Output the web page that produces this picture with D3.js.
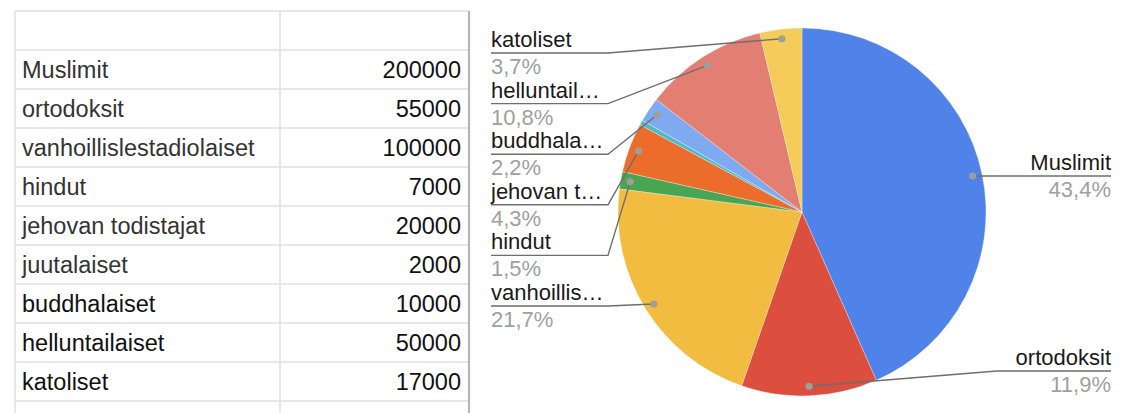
<!DOCTYPE html>
<html><head><meta charset="utf-8">
<script src="https://cdn.jsdelivr.net/npm/d3@7"></script>
<style>
html,body{margin:0;padding:0;background:#fff;}
svg{display:block;font-family:"Liberation Sans",Arial,Helvetica,sans-serif;}
</style></head>
<body>
<svg id="chart" width="1124" height="413"></svg>
<script>
const categories = ["Muslimit","ortodoksit","vanhoillislestadiolaiset","hindut","jehovan todistajat","juutalaiset","buddhalaiset","helluntailaiset","katoliset"];
const values = [200000,55000,100000,7000,20000,2000,10000,50000,17000];
const colors = ["#4f83e9","#dc4f3e","#f1bc3f","#4aa552","#ec6c2b","#4fbac4","#7faaf2","#e27e72","#f5cc5a"];
const tableTextColors = ["#333","#333","#333","#333","#333","#333","#111","#111","#111"];

const svg = d3.select("#chart");

// ---------- Table ----------
const rowKeys = ["__header"].concat(categories);
const y = d3.scaleBand().domain(rowKeys).range([11, 401]);
const colX = [15, 280, 469];
const tbl = svg.append("g");
const hl = d3.range(rowKeys.length + 1).map(i => 11 + i * y.bandwidth());
tbl.selectAll("line.h").data(hl).join("line")
  .attr("x1", colX[0]).attr("x2", colX[2])
  .attr("y1", d => d).attr("y2", d => d)
  .attr("stroke", "#e1e1e1").attr("stroke-width", 1.6);
tbl.append("line").attr("x1", colX[0]).attr("x2", colX[0]).attr("y1", 11).attr("y2", 413)
  .attr("stroke", "#e1e1e1").attr("stroke-width", 1.6);
tbl.append("line").attr("x1", colX[1]).attr("x2", colX[1]).attr("y1", 11).attr("y2", 413)
  .attr("stroke", "#e1e1e1").attr("stroke-width", 1.6);
tbl.append("line").attr("x1", colX[2]).attr("x2", colX[2]).attr("y1", 11).attr("y2", 413)
  .attr("stroke", "#b5b5b5").attr("stroke-width", 2.2);

tbl.selectAll("text.lab").data(categories).join("text")
  .attr("x", 22).attr("y", d => y(d) + 28)
  .attr("font-size", 23.5).attr("fill", (d, i) => tableTextColors[i])
  .text(d => d);
tbl.selectAll("text.val").data(values).join("text")
  .attr("x", 461).attr("y", (d, i) => y(categories[i]) + 28)
  .attr("text-anchor", "end")
  .attr("font-size", 23.5).attr("fill", "#111")
  .text(d => d);

// ---------- Pie ----------
const cx = 802, cy = 212, R = 184;
const total = d3.sum(values);
const data = categories.map((c, i) => ({name: c, value: values[i], color: colors[i]}));
const pie = d3.pie().value(d => d.value).sort(null);
const arcs = pie(data);
const arc = d3.arc().innerRadius(0).outerRadius(R);
const dotArc = d3.arc().innerRadius(R * 0.948).outerRadius(R * 0.948);

const pg = svg.append("g").attr("transform", `translate(${cx},${cy})`);
pg.selectAll("path").data(arcs).join("path")
  .attr("d", arc).attr("fill", d => d.data.color)
  .attr("stroke", "#fff").attr("stroke-width", 0.3);

const fmt = v => d3.format(".1f")(v * 100).replace(".", ",") + "%";

const labeled = arcs.filter(a => a.value / total >= 0.01).map(a => {
  const mid = (a.startAngle + a.endAngle) / 2;
  const p = dotArc.centroid(a);
  return {a, mid, dx: cx + p[0], dy: cy + p[1], left: mid > Math.PI};
});

const leftL = labeled.filter(d => d.left).sort((p, q) => p.dy - q.dy);
const rightL = labeled.filter(d => !d.left).sort((p, q) => p.dy - q.dy);
const spacing = 50.6, topLimit = 53, bottomLimit = 371;
let prev = -Infinity;
leftL.forEach((d, i) => {
  d.ly = i === 0 ? Math.max(d.dy, topLimit) : Math.max(d.dy, prev + spacing);
  prev = d.ly;
});
let nxt = Infinity;
rightL.slice().reverse().forEach((d, i) => {
  d.ly = i === 0 ? Math.min(d.dy, bottomLimit) : Math.min(d.dy, nxt - spacing);
  nxt = d.ly;
});

const lg = svg.append("g");
const fs = 22, maxW = 114;
const leftX = 491, leftElbow = 608, rightX = 1111, rightElbow = 997;

function fitText(t, full) {
  t.text(full);
  if (t.node().getComputedTextLength() <= maxW) return;
  let s = full;
  while (s.length > 1) {
    s = s.slice(0, -1);
    t.text(s + "…");
    if (t.node().getComputedTextLength() <= maxW) return;
  }
}

labeled.forEach(d => {
  const pts = d.left
    ? [[leftX, d.ly], [leftElbow, d.ly], [d.dx, d.dy]]
    : [[rightX, d.ly], [rightElbow, d.ly], [d.dx, d.dy]];
  if (!d.left && d.dx > rightElbow) pts[1] = [d.dx, d.ly];
  if (Math.abs(d.dy - d.ly) < 0.5) pts.splice(1, 1);
  lg.append("path").attr("d", d3.line()(pts))
    .attr("fill", "none").attr("stroke", "#6e6e6e").attr("stroke-width", 1.4);
  lg.append("circle").attr("cx", d.dx).attr("cy", d.dy).attr("r", 3.6).attr("fill", "#9e9e9e");
  const tx = d.left ? leftX : rightX;
  const anchor = d.left ? "start" : "end";
  const t = lg.append("text").attr("x", tx).attr("y", d.ly - 6)
    .attr("text-anchor", anchor).attr("font-size", fs).attr("fill", "#1a1a1a");
  fitText(t, d.a.data.name);
  lg.append("text").attr("x", tx).attr("y", d.ly + 21)
    .attr("text-anchor", anchor).attr("font-size", fs).attr("fill", "#a0a0a0")
    .text(fmt(d.a.value / total));
});
</script>
</body></html>
